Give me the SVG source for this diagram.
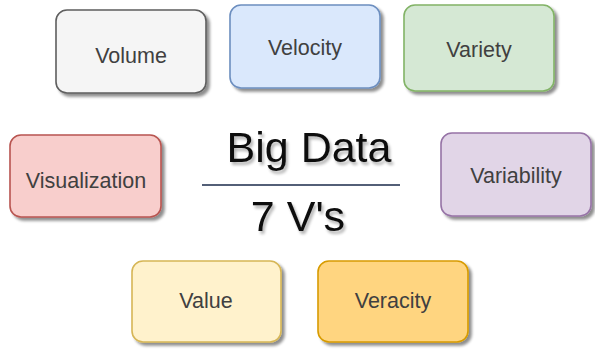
<svg xmlns="http://www.w3.org/2000/svg" width="595" height="351" viewBox="0 0 595 351">
<defs>
<filter id="sh" x="-10%" y="-10%" width="130%" height="130%">
<feGaussianBlur in="SourceAlpha" stdDeviation="1.5"/>
<feOffset dx="3" dy="3" result="b"/>
<feComponentTransfer><feFuncA type="linear" slope="0.45"/></feComponentTransfer>
<feMerge><feMergeNode/><feMergeNode in="SourceGraphic"/></feMerge>
</filter>
<filter id="tsh" x="-10%" y="-10%" width="130%" height="140%">
<feGaussianBlur in="SourceAlpha" stdDeviation="1.5"/>
<feOffset dx="2" dy="3" result="b"/>
<feComponentTransfer><feFuncA type="linear" slope="0.3"/></feComponentTransfer>
<feMerge><feMergeNode/><feMergeNode in="SourceGraphic"/></feMerge>
</filter>
</defs>
<style>
.box{stroke-width:1.6;filter:url(#sh)}
.lbl{font-family:"Liberation Sans",Arial,sans-serif;font-size:21.5px;fill:#404040;text-anchor:middle}
.big{font-family:"Liberation Sans",Arial,sans-serif;font-size:43px;fill:#111;text-anchor:middle;filter:url(#tsh)}
</style>
<rect width="595" height="351" fill="#ffffff"/>
<g id="volume">
<rect class="box" x="56" y="10" width="150" height="83" rx="11" fill="#f5f5f5" stroke="#5e5e5e"/>
<text class="lbl" x="131" y="63">Volume</text>
</g>
<g id="velocity">
<rect class="box" x="230" y="5" width="150" height="83" rx="11" fill="#dae8fc" stroke="#6c8ebf"/>
<text class="lbl" x="305" y="55">Velocity</text>
</g>
<g id="variety">
<rect class="box" x="404" y="5" width="150" height="86" rx="11" fill="#d5e8d4" stroke="#82b366"/>
<text class="lbl" x="479" y="57">Variety</text>
</g>
<g id="visualization">
<rect class="box" x="10" y="135" width="151" height="82" rx="11" fill="#f8cecc" stroke="#b85450"/>
<text class="lbl" x="86" y="188">Visualization</text>
</g>
<g id="variability">
<rect class="box" x="441" y="133" width="150" height="83" rx="11" fill="#e1d5e7" stroke="#9673a6"/>
<text class="lbl" x="516" y="183">Variability</text>
</g>
<g id="value">
<rect class="box" x="132" y="261" width="149" height="81" rx="11" fill="#fff2cc" stroke="#d6b656"/>
<text class="lbl" x="206" y="308">Value</text>
</g>
<g id="veracity">
<rect class="box" x="318" y="261" width="150" height="81" rx="11" fill="#ffd580" stroke="#d79b00"/>
<text class="lbl" x="393" y="308">Veracity</text>
</g>
<g id="title">
<text class="big" x="309" y="162">Big Data</text>
<line x1="202" y1="185" x2="400" y2="185" stroke="#1a2a4a" stroke-width="1.5"/>
<text class="big" x="298" y="231">7 V's</text>
</g>
<g id="connectors"/>
</svg>
